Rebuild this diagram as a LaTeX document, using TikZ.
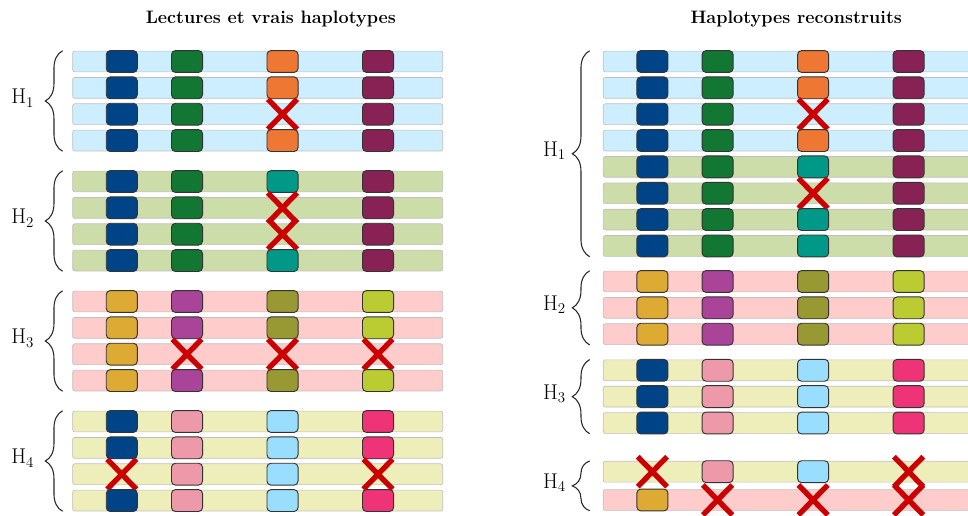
\documentclass[tikz,border=0pt]{standalone}
\usepackage{fontspec}
\usetikzlibrary{decorations.pathreplacing, shapes.misc}

\definecolor{hblue}{HTML}{004488}
\definecolor{hgreen}{HTML}{117733}
\definecolor{horange}{HTML}{EE7733}
\definecolor{hwine}{HTML}{882255}
\definecolor{hteal}{HTML}{009988}
\definecolor{hgold}{HTML}{DDAA33}
\definecolor{hpurple}{HTML}{AA4499}
\definecolor{holive}{HTML}{999933}
\definecolor{hpear}{HTML}{BBCC33}
\definecolor{hrose}{HTML}{EE99AA}
\definecolor{hcyan}{HTML}{99DDFF}
\definecolor{hmagenta}{HTML}{EE3377}
\definecolor{pcyan}{HTML}{CCEEFF}
\definecolor{pgreen}{HTML}{CCDDAA}
\definecolor{pred}{HTML}{FFCCCC}
\definecolor{pyellow}{HTML}{EEEEBB}
\definecolor{xred}{HTML}{CC0000}

% one read: name, left end, centre, bar colour, four cells
\newcommand{\haprow}[8]{%
  \node[rbar, fill=#4] (#1) at (#2+185,#3) {};
  \node[#5] (#1-1) at (#2+49.1,#3) {};
  \node[#6] (#1-2) at (#2+114.3,#3) {};
  \node[#7] (#1-3) at (#2+209.8,#3) {};
  \node[#8] (#1-4) at (#2+305.3,#3) {};}

\begin{document}
\begin{tikzpicture}[x=0.75pt, y=-0.75pt,
    rbar/.style={draw=black!25, line width=0.5pt, rounded corners=1.5pt,
                 minimum width=277.5pt, minimum height=15.6pt, inner sep=0pt},
    blk/.style={draw=black!80, line width=0.7pt, rounded corners=3pt,
                fill=#1, minimum width=23.3pt, minimum height=16.4pt,
                inner sep=0pt},
    miss/.style={cross out, draw=xred, line width=4pt,
                 minimum width=18pt, minimum height=18.5pt, inner sep=0pt},
    brc/.style={decorate, decoration={brace, amplitude=13pt},
                draw=black!85, line width=0.8pt},
    hlab/.style={midway, anchor=base east, inner sep=0pt, yshift=-2pt,
                 font=\fontsize{16}{19}\selectfont},
    ttl/.style={anchor=base, font=\fontsize{13.5}{16}\selectfont\bfseries}]
  \useasboundingbox (0,0) rectangle (968,516);
  \clip (0,0) rectangle (968,516);

  \node[ttl] (ttl-l) at (270.8,23.3) {Lectures et vrais haplotypes};
  \node[ttl] (ttl-r) at (796.3,23.3) {Haplotypes reconstruits};

  % reads and true haplotypes
  \haprow{l1}{72.7}{61.5}{pcyan}{blk=hblue}{blk=hgreen}{blk=horange}{blk=hwine}
  \haprow{l2}{72.7}{87.85}{pcyan}{blk=hblue}{blk=hgreen}{blk=horange}{blk=hwine}
  \haprow{l3}{72.7}{114.2}{pcyan}{blk=hblue}{blk=hgreen}{miss}{blk=hwine}
  \haprow{l4}{72.7}{140.55}{pcyan}{blk=hblue}{blk=hgreen}{blk=horange}{blk=hwine}
  \haprow{l5}{72.7}{181.5}{pgreen}{blk=hblue}{blk=hgreen}{blk=hteal}{blk=hwine}
  \haprow{l6}{72.7}{207.85}{pgreen}{blk=hblue}{blk=hgreen}{miss}{blk=hwine}
  \haprow{l7}{72.7}{234.2}{pgreen}{blk=hblue}{blk=hgreen}{miss}{blk=hwine}
  \haprow{l8}{72.7}{260.55}{pgreen}{blk=hblue}{blk=hgreen}{blk=hteal}{blk=hwine}
  \haprow{l9}{72.7}{301.5}{pred}{blk=hgold}{blk=hpurple}{blk=holive}{blk=hpear}
  \haprow{l10}{72.7}{327.85}{pred}{blk=hgold}{blk=hpurple}{blk=holive}{blk=hpear}
  \haprow{l11}{72.7}{354.2}{pred}{blk=hgold}{miss}{miss}{miss}
  \haprow{l12}{72.7}{380.55}{pred}{blk=hgold}{blk=hpurple}{blk=holive}{blk=hpear}
  \haprow{l13}{72.7}{421.5}{pyellow}{blk=hblue}{blk=hrose}{blk=hcyan}{blk=hmagenta}
  \haprow{l14}{72.7}{447.85}{pyellow}{blk=hblue}{blk=hrose}{blk=hcyan}{blk=hmagenta}
  \haprow{l15}{72.7}{474.2}{pyellow}{miss}{blk=hrose}{blk=hcyan}{miss}
  \haprow{l16}{72.7}{500.55}{pyellow}{blk=hblue}{blk=hrose}{blk=hcyan}{blk=hmagenta}

  \draw[brc] ([xshift=-7.3pt]l4.south west) -- ([xshift=-7.3pt]l1.north west)
    node[hlab, xshift=-21pt] (lab-l1) {H\textsubscript{1}};
  \draw[brc] ([xshift=-7.3pt]l8.south west) -- ([xshift=-7.3pt]l5.north west)
    node[hlab, xshift=-21pt] (lab-l2) {H\textsubscript{2}};
  \draw[brc] ([xshift=-7.3pt]l12.south west) -- ([xshift=-7.3pt]l9.north west)
    node[hlab, xshift=-21pt] (lab-l3) {H\textsubscript{3}};
  \draw[brc] ([xshift=-7.3pt]l16.south west) -- ([xshift=-7.3pt]l13.north west)
    node[hlab, xshift=-21pt] (lab-l4) {H\textsubscript{4}};

  % reconstructed haplotypes
  \haprow{r1}{603.3}{61.5}{pcyan}{blk=hblue}{blk=hgreen}{blk=horange}{blk=hwine}
  \haprow{r2}{603.3}{87.85}{pcyan}{blk=hblue}{blk=hgreen}{blk=horange}{blk=hwine}
  \haprow{r3}{603.3}{114.2}{pcyan}{blk=hblue}{blk=hgreen}{miss}{blk=hwine}
  \haprow{r4}{603.3}{140.55}{pcyan}{blk=hblue}{blk=hgreen}{blk=horange}{blk=hwine}
  \haprow{r5}{603.3}{166.9}{pgreen}{blk=hblue}{blk=hgreen}{blk=hteal}{blk=hwine}
  \haprow{r6}{603.3}{193.25}{pgreen}{blk=hblue}{blk=hgreen}{miss}{blk=hwine}
  \haprow{r7}{603.3}{219.6}{pgreen}{blk=hblue}{blk=hgreen}{blk=hteal}{blk=hwine}
  \haprow{r8}{603.3}{245.95}{pgreen}{blk=hblue}{blk=hgreen}{blk=hteal}{blk=hwine}
  \haprow{r9}{603.3}{281.5}{pred}{blk=hgold}{blk=hpurple}{blk=holive}{blk=hpear}
  \haprow{r10}{603.3}{307.85}{pred}{blk=hgold}{blk=hpurple}{blk=holive}{blk=hpear}
  \haprow{r11}{603.3}{334.2}{pred}{blk=hgold}{blk=hpurple}{blk=holive}{blk=hpear}
  \haprow{r12}{603.3}{370.3}{pyellow}{blk=hblue}{blk=hrose}{blk=hcyan}{blk=hmagenta}
  \haprow{r13}{603.3}{396.65}{pyellow}{blk=hblue}{blk=hrose}{blk=hcyan}{blk=hmagenta}
  \haprow{r14}{603.3}{423}{pyellow}{blk=hblue}{blk=hrose}{blk=hcyan}{blk=hmagenta}
  \haprow{r15}{603.3}{471.7}{pyellow}{miss}{blk=hrose}{blk=hcyan}{miss}
  \haprow{r16}{603.3}{500}{pred}{blk=hgold}{miss}{miss}{miss}

  \draw[brc] ([xshift=-10pt]r8.south west) -- ([xshift=-10pt]r1.north west)
    node[hlab, xshift=-17.5pt] (lab-r1) {H\textsubscript{1}};
  \draw[brc] ([xshift=-10pt]r11.south west) -- ([xshift=-10pt]r9.north west)
    node[hlab, xshift=-17.5pt] (lab-r2) {H\textsubscript{2}};
  \draw[brc] ([xshift=-10pt]r14.south west) -- ([xshift=-10pt]r12.north west)
    node[hlab, xshift=-17.5pt] (lab-r3) {H\textsubscript{3}};
  \draw[brc] ([xshift=-10pt]r16.south west) -- ([xshift=-10pt]r15.north west)
    node[hlab, xshift=-17.5pt] (lab-r4) {H\textsubscript{4}};
\end{tikzpicture}
\end{document}
